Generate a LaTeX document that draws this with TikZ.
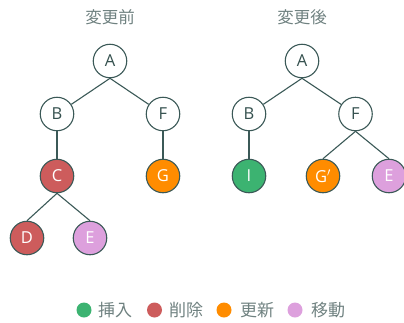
\documentclass[tikz,border=0pt]{standalone}
\usepackage{fontspec}
\setmainfont{Open Sans}
\newfontfamily\jpfont{Noto Sans CJK JP}
\definecolor{edgecol}{HTML}{3B5957}
\definecolor{inkcol}{HTML}{34504E}
\definecolor{titlecol}{HTML}{6F8180}
\definecolor{inscol}{HTML}{3CB371}
\definecolor{delcol}{HTML}{CD5C5C}
\definecolor{updcol}{HTML}{FF8C00}
\definecolor{movcol}{HTML}{DDA0DD}
\tikzset{
  tnode/.style={circle, draw=edgecol, line width=1.1pt, minimum size=33.5pt, inner sep=0pt,
    font=\fontsize{16.5}{16.5}\selectfont, text=inkcol, fill=white},
  plain/.style={tnode},
  ins/.style={tnode, fill=inscol, text=white},
  del/.style={tnode, fill=delcol, text=white},
  upd/.style={tnode, fill=updcol, text=white},
  mov/.style={tnode, fill=movcol, text=white},
  link/.style={draw=edgecol, line width=1.1pt},
  heading/.style={font=\jpfont\fontsize{16.5}{16.5}\selectfont, text=titlecol},
  swatch/.style={circle, minimum size=15pt, inner sep=0pt},
  keytext/.style={font=\jpfont\fontsize{17}{17}\selectfont, text=titlecol, anchor=west, inner sep=0pt},
}
\begin{document}
\begin{tikzpicture}[x=1pt, y=-1pt]
\useasboundingbox (0,0) rectangle (404,322);

% titles
\node[heading] (t1) at (110,17) {変更前};
\node[heading] (t2) at (302,17) {変更後};

% tree before the change
\node[plain] (a1) at (110,61) {A};
\node[plain] (b1) at (57,114) {B};
\node[plain] (f1) at (163,114) {F};
\node[del] (c1) at (57,176) {C};
\node[upd] (g1) at (163,176) {G};
\node[del] (d1) at (27,238) {D};
\node[mov] (e1) at (90,238) {E};

\draw[link] (a1.south) -- (b1);
\draw[link] (a1.south) -- (f1);
\draw[link] (b1.south) -- (c1.north);
\draw[link] (f1.south) -- (g1.north);
\draw[link] (c1.south) -- (d1.north);
\draw[link] (c1.south) -- (e1.north);

% tree after the change
\node[plain] (a2) at (302,61) {A};
\node[plain] (b2) at (249,114) {B};
\node[plain] (f2) at (355.5,114) {F};
\node[ins] (i2) at (249,176) {I};
\node[upd] (g2) at (323,176) {G$'$};
\node[mov] (e2) at (389,176) {E};

\draw[link] (a2.south) -- (b2);
\draw[link] (a2.south) -- (f2);
\draw[link] (b2.south) -- (i2.north);
\draw[link] (f2.south) -- (g2.north);
\draw[link] (f2.south) -- (e2.north);

% legend
\node[swatch, fill=inscol] (k1) at (84,310) {};
\node[keytext] (l1) at (98,310) {挿入};
\node[swatch, fill=delcol] (k2) at (154.5,310) {};
\node[keytext] (l2) at (169,310) {削除};
\node[swatch, fill=updcol] (k3) at (224,310) {};
\node[keytext] (l3) at (240,310) {更新};
\node[swatch, fill=movcol] (k4) at (295,310) {};
\node[keytext] (l4) at (311,310) {移動};
\end{tikzpicture}
\end{document}
